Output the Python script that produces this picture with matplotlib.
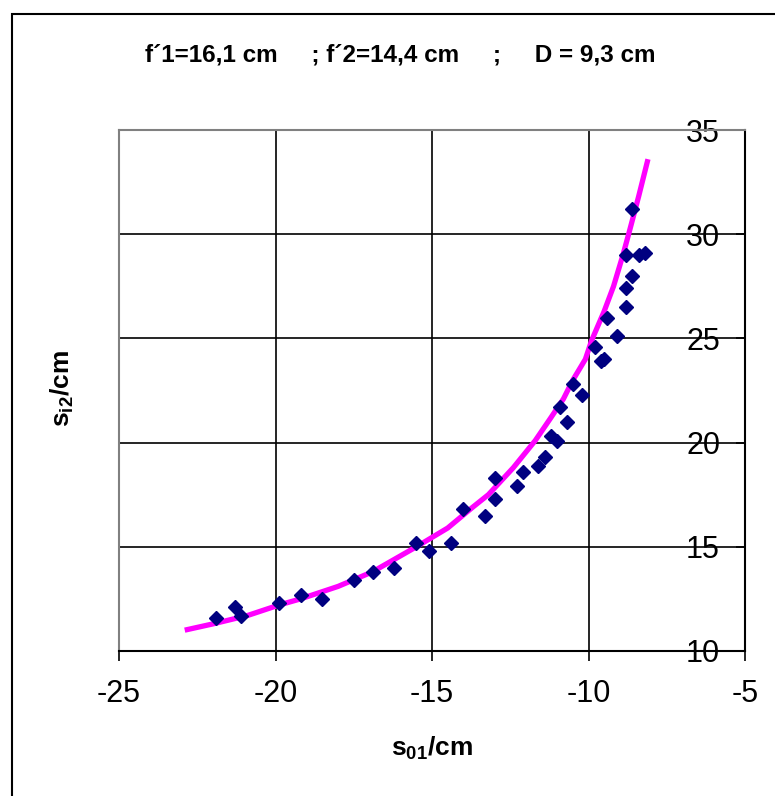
import numpy as np
import matplotlib.pyplot as plt
from matplotlib.patches import Rectangle

plt.rcParams['font.family'] = ['Liberation Sans', 'DejaVu Sans']
plt.rcParams['axes.unicode_minus'] = False
plt.rcParams['mathtext.fontset'] = 'custom'
plt.rcParams['mathtext.rm'] = 'Liberation Sans:bold'
plt.rcParams['mathtext.it'] = 'Liberation Sans:bold'
plt.rcParams['mathtext.bf'] = 'Liberation Sans:bold'

# measured points (s01, si2) in cm
s01 = [-21.9, -21.3, -21.1, -19.9, -19.2, -18.5, -17.5, -16.9, -16.2, -15.5,
       -15.1, -14.4, -14.0, -13.3, -13.0, -13.0, -12.3, -12.1, -11.6, -11.4,
       -11.2, -11.0, -10.9, -10.7, -10.5, -10.2, -9.6, -9.5, -9.8, -9.1,
       -9.4, -8.8, -8.8, -8.6, -8.8, -8.4, -8.2, -8.6]
si2 = [11.6, 12.1, 11.7, 12.3, 12.7, 12.5, 13.4, 13.8, 14.0, 15.2,
       14.8, 15.2, 16.8, 16.5, 18.3, 17.3, 17.9, 18.6, 18.9, 19.3,
       20.3, 20.1, 21.7, 21.0, 22.8, 22.3, 23.9, 24.0, 24.6, 25.1,
       26.0, 26.5, 27.4, 28.0, 29.0, 29.0, 29.1, 31.2]

# theoretical curve
curve_x = [-22.9, -22.0, -20.9, -19.9, -19.2, -18.0, -16.9, -15.5, -14.5, -13.7,
           -13.2, -12.4, -11.7, -11.2, -10.8, -10.5, -10.1, -9.9, -9.5, -9.2,
           -8.9, -8.7, -8.4, -8.1]
curve_y = [11.0, 11.3, 11.7, 12.2, 12.5, 13.1, 13.8, 15.0, 15.9, 16.9,
           17.5, 18.8, 20.1, 21.2, 22.1, 23.0, 24.0, 24.9, 26.3, 27.5,
           29.0, 30.1, 31.8, 33.6]

x_ticks = [-25, -20, -15, -10, -5]
y_ticks = [10, 15, 20, 25, 30, 35]

W, H = 775, 796
fig = plt.figure(figsize=(W / 100, H / 100), dpi=100)
ax = fig.add_axes([119 / W, 1 - 651 / H, 626 / W, 521 / H])

ax.plot(curve_x, curve_y, color='#FF00FF', lw=3.8, solid_capstyle='butt',
        solid_joinstyle='round', zorder=3)
ax.plot(s01, si2, 'D', color='#000080', ms=6.8, mec='#000080', zorder=4)

ax.set_xlim(-25, -5)
ax.set_ylim(10, 35)
ax.set_xticks(x_ticks)
ax.set_yticks(y_ticks)
ax.grid(True, color='black', lw=1.2)
ax.set_axisbelow(True)

for side in ['left', 'top']:
    ax.spines[side].set_color('#808080')
    ax.spines[side].set_linewidth(1.5)
for side in ['bottom', 'right']:
    ax.spines[side].set_color('black')
    ax.spines[side].set_linewidth(1.5)

ax.tick_params(axis='x', direction='out', length=7, width=1.2, labelsize=22, pad=13)
ax.tick_params(axis='y', direction='in', length=6.5, width=1.2, labelsize=22,
               left=False, labelleft=False, right=True, labelright=True, pad=-18)
for lab in ax.get_yticklabels():
    lab.set_horizontalalignment('right')

fig.text(400 / W, 1 - 55 / H, "f´1=16,1 cm     ; f´2=14,4 cm     ;     D = 9,3 cm",
         ha='center', va='center', fontsize=17.5, fontweight='bold')
fig.text(432 / W, 1 - 748 / H, r"s$_\mathrm{01}$/cm", ha='center', va='center',
         fontsize=19, fontweight='bold')
fig.text(62 / W, 1 - 389 / H, r"s$_\mathrm{i2}$/cm", ha='center', va='center',
         fontsize=19, fontweight='bold', rotation=90)

fig.patches.append(Rectangle((12 / W, -0.1), 1.2, 1.1 - 14 / H, transform=fig.transFigure,
                             fill=False, ec='black', lw=1.5))

fig.savefig('out.png', dpi=100)
